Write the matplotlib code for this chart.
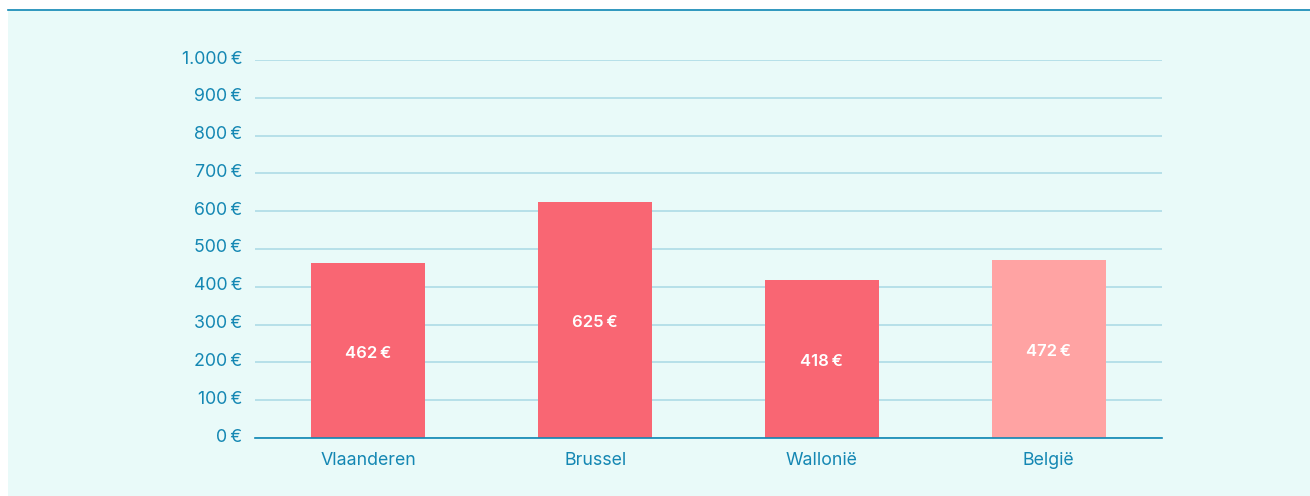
import matplotlib
matplotlib.use('Agg')
import matplotlib.pyplot as plt
import matplotlib.transforms as mtransforms
from matplotlib.patches import Rectangle
from matplotlib.lines import Line2D

regions = ['Vlaanderen', 'Brussel', 'Wallonië', 'België']
values = [462, 625, 418, 472]
bar_colors = ['#F96673', '#F96673', '#F96673', '#FFA3A3']
yticks = [0, 100, 200, 300, 400, 500, 600, 700, 800, 900, 1000]
ytick_labels = ['0\u2009€', '100\u2009€', '200\u2009€', '300\u2009€', '400\u2009€',
                '500\u2009€', '600\u2009€', '700\u2009€', '800\u2009€', '900\u2009€',
                '1.000\u2009€']

bg = '#E9FAF9'
blue = '#1487B3'
plt.rcParams['font.family'] = ['Inter', 'DejaVu Sans']

W, H = 1310, 496
fig = plt.figure(figsize=(W / 100, H / 100), dpi=100)
fig.patch.set_facecolor('white')
# panel background and the top rule
fig.patches.append(Rectangle((8 / W, 0), 1 - 8 / W, (H - 10) / H,
                             transform=fig.transFigure, facecolor=bg,
                             edgecolor='none', zorder=-10))
fig.lines.append(Line2D([8 / W, 1], [(H - 10) / H, (H - 10) / H],
                        transform=fig.transFigure, color='#0E86B4', lw=1.2,
                        zorder=-5))

ax = fig.add_axes([255 / W, (H - 438) / H, (1162 - 255) / W, (438 - 60) / H])
ax.set_facecolor('none')
ax.set_zorder(1)

x = range(len(regions))
bars = ax.bar(x, values, width=0.503, color=bar_colors, zorder=3)
down = mtransforms.ScaledTranslation(0, -3 / 100, fig.dpi_scale_trans)
for xi, v in zip(x, values):
    ax.text(xi, v / 2, f'{v}\u2009€', ha='center', va='center', color='white',
            fontsize=12, fontweight='semibold', zorder=4,
            transform=ax.transData + down)

ax.set_xlim(-0.5, 3.5)
ax.set_ylim(0, 1000)
ax.set_yticks(yticks)
ax.set_yticklabels(ytick_labels)
ax.set_xticks(list(x))
ax.set_xticklabels(regions)
ax.tick_params(axis='both', length=0, colors=blue, labelsize=12.8)
ax.tick_params(axis='y', pad=9)
ax.tick_params(axis='x', pad=10)
# y labels sit a little above their grid lines
shift = mtransforms.ScaledTranslation(0, 3 / 100, fig.dpi_scale_trans)
for lbl in ax.get_yticklabels():
    lbl.set_transform(lbl.get_transform() + shift)
ax.grid(axis='y', color='#AEDBE6', lw=1.2, zorder=1)
for s in ['top', 'right', 'left']:
    ax.spines[s].set_visible(False)
ax.spines['bottom'].set_color('#0E86B4')
ax.spines['bottom'].set_linewidth(1.2)
ax.spines['bottom'].set_zorder(5)

fig.savefig('out.png', dpi=100, facecolor=fig.get_facecolor())
